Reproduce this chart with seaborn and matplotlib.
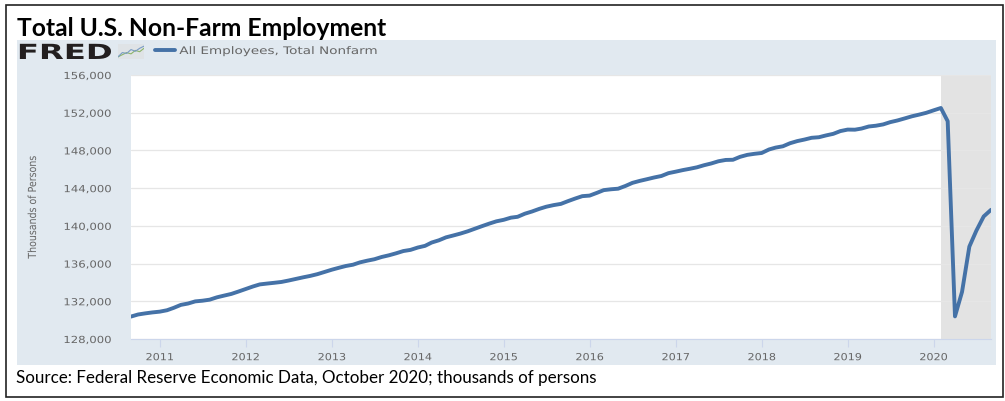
import matplotlib
matplotlib.use("Agg")
import matplotlib.pyplot as plt
import matplotlib.dates as mdates
import matplotlib.patheffects as path_effects
from matplotlib.lines import Line2D
from matplotlib.patches import Rectangle
from matplotlib.transforms import Affine2D
import pandas as pd
import seaborn as sns

# Nonfarm payrolls, thousands of persons, monthly from Sep 2010 to Sep 2020
y2010 = [130380, 130600, 130720, 130820]
y2011 = [130900, 131050, 131300, 131620, 131760, 131990, 132060, 132170, 132420, 132600, 132780, 133030]
y2012 = [133300, 133570, 133790, 133880, 133960, 134050, 134200, 134370, 134540, 134690, 134880, 135110]
y2013 = [135350, 135560, 135740, 135880, 136130, 136310, 136460, 136700, 136880, 137090, 137330, 137450]
y2014 = [137700, 137880, 138230, 138470, 138780, 138980, 139180, 139420, 139700, 139970, 140240, 140480]
y2015 = [140640, 140870, 140960, 141290, 141520, 141800, 142030, 142200, 142330, 142620, 142900, 143150]
y2016 = [143210, 143500, 143790, 143880, 143940, 144230, 144560, 144770, 144950, 145130, 145290, 145590]
y2017 = [145750, 145920, 146050, 146210, 146430, 146620, 146850, 146990, 147010, 147320, 147530, 147640]
y2018 = [147730, 148100, 148300, 148440, 148760, 148990, 149150, 149340, 149400, 149590, 149760, 150050]
y2019 = [150210, 150200, 150320, 150540, 150620, 150760, 151000, 151180, 151400, 151620, 151800, 151990]
y2020 = [152250, 152500, 151100, 130400, 133000, 137800, 139500, 141000, 141700]

series_name = "All Employees, Total Nonfarm"
y_ticks = [128000, 132000, 136000, 140000, 144000, 148000, 152000, 156000]
recession_start = "2020-02-01"
icon_x = [0, 1, 2, 3, 4, 5, 6]
icon_green = [1, 2, 3, 2.4, 4, 3.4, 5]
icon_blue = [1, 3, 2.6, 4.4, 3.6, 5, 6]

W, H = 1005, 402


def fig_box(left, top, right, bottom):
    """Convert a pixel box (origin top-left) to figure fractions."""
    return [left / W, 1 - bottom / H, (right - left) / W, (bottom - top) / H]


def fx(px):
    return px / W


def fy(px):
    return 1 - px / H


class Widen(path_effects.AbstractPathEffect):
    """Draw text glyphs wider or narrower than the font, keeping their centre."""

    def __init__(self, factor):
        super().__init__()
        self.factor = factor

    def draw_path(self, renderer, gc, tpath, affine, rgbFace=None):
        mid = tpath.get_extents().x0 / 2 + tpath.get_extents().x1 / 2
        widen = Affine2D().translate(-mid, 0).scale(self.factor, 1).translate(mid, 0)
        renderer.draw_path(gc, tpath, widen + affine, rgbFace)


values = y2010 + y2011 + y2012 + y2013 + y2014 + y2015 + y2016 + y2017 + y2018 + y2019 + y2020
dates = pd.date_range("2010-09-01", periods=len(values), freq="MS")
frame = pd.DataFrame({"date": dates, "employees": values})

sns.set_theme(style="white")
plt.rcParams["font.family"] = ["DejaVu Sans"]

fig = plt.figure(figsize=(W / 100, H / 100), dpi=100, facecolor="white")

# outer border and the tinted chart panel sit behind the axes
fig.add_artist(Rectangle((fx(5.5), fy(398)), (1003 - 5.5) / W, (398 - 6) / H, transform=fig.transFigure,
                         facecolor="white", edgecolor="#222222", linewidth=1.2, zorder=-2))
fig.add_artist(Rectangle((fx(17), fy(366)), (996 - 17) / W, (366 - 41) / H, transform=fig.transFigure,
                         facecolor="#e1e9f0", edgecolor="none", zorder=-1))

ax = fig.add_axes(fig_box(131, 76, 991, 340), facecolor="white")
ax.axvspan(pd.Timestamp(recession_start), dates[-1], color="#e3e3e3", lw=0, zorder=0)
sns.lineplot(data=frame, x="date", y="employees", ax=ax, color="#4572a7", linewidth=2.8, zorder=3, legend=False)

ax.set_xlim(dates[0], dates[-1])
ax.set_ylim(y_ticks[0], y_ticks[-1])
ax.set_yticks(y_ticks)
ax.set_yticklabels([f"{v:,}" for v in y_ticks], fontsize=7, color="#666666")
ax.xaxis.set_major_locator(mdates.YearLocator())
ax.xaxis.set_major_formatter(mdates.DateFormatter("%Y"))
ax.tick_params(axis="x", length=5.5, width=0.8, color="#ccd6eb", labelsize=7, labelcolor="#666666", pad=4, bottom=True)
ax.tick_params(axis="y", length=0, pad=17)
ax.grid(axis="y", color="#e6e6e6", linewidth=0.9)
ax.set_axisbelow(True)
for side in ["top", "left", "right"]:
    ax.spines[side].set_visible(False)
ax.spines["bottom"].set_color("#ccd6eb")
ax.spines["bottom"].set_linewidth(0.8)
ax.set_xlabel("")
ax.set_ylabel("")
for label in ax.get_yticklabels():
    label.set_path_effects([Widen(1.2)])
for label in ax.get_xticklabels():
    label.set_path_effects([Widen(1.15)])

fig.text(fx(33), fy(208), "Thousands of Persons", rotation=90, ha="center", va="center",
         fontsize=8, color="#666666", family="Liberation Sans Narrow", path_effects=[Widen(0.85)])

# headline and source note
fig.text(fx(17), fy(35.5), "Total U.S. Non-Farm Employment", fontsize=17.7, fontweight="bold",
         family="Lato", color="black", ha="left", va="baseline")
fig.text(fx(16), fy(383), "Source: Federal Reserve Economic Data, October 2020; thousands of persons",
         fontsize=12.25, family="Lato", color="black", ha="left", va="baseline")

# wordmark, sparkline icon and series key
fig.text(fx(65), fy(60), "FRED", fontsize=15, fontweight="bold", family="DejaVu Sans", color="#231f20",
         ha="center", va="baseline", path_effects=[Widen(1.55)])
icon = fig.add_axes(fig_box(118, 45, 144, 60), facecolor="#dfe3e6")
icon.plot(icon_x, icon_green, color="#8cb56a", lw=0.8)
icon.plot(icon_x, icon_blue, color="#7a9cc4", lw=0.8)
icon.set_xlim(icon_x[0], icon_x[-1])
icon.set_ylim(0, 7)
icon.set_xticks([])
icon.set_yticks([])
for spine in icon.spines.values():
    spine.set_visible(False)

key = fig.legend(handles=[Line2D([], [], color="#4572a7", linewidth=2.8)], labels=[series_name],
                 loc="center left", bbox_to_anchor=(fx(155), fy(52)), frameon=False, fontsize=7.5,
                 labelcolor="#666666", handlelength=1.92, handletextpad=2.6, borderpad=0, borderaxespad=0)
for text in key.get_texts():
    text.set_path_effects([Widen(1.3)])

fig.savefig("out.png", dpi=100, facecolor="white")
